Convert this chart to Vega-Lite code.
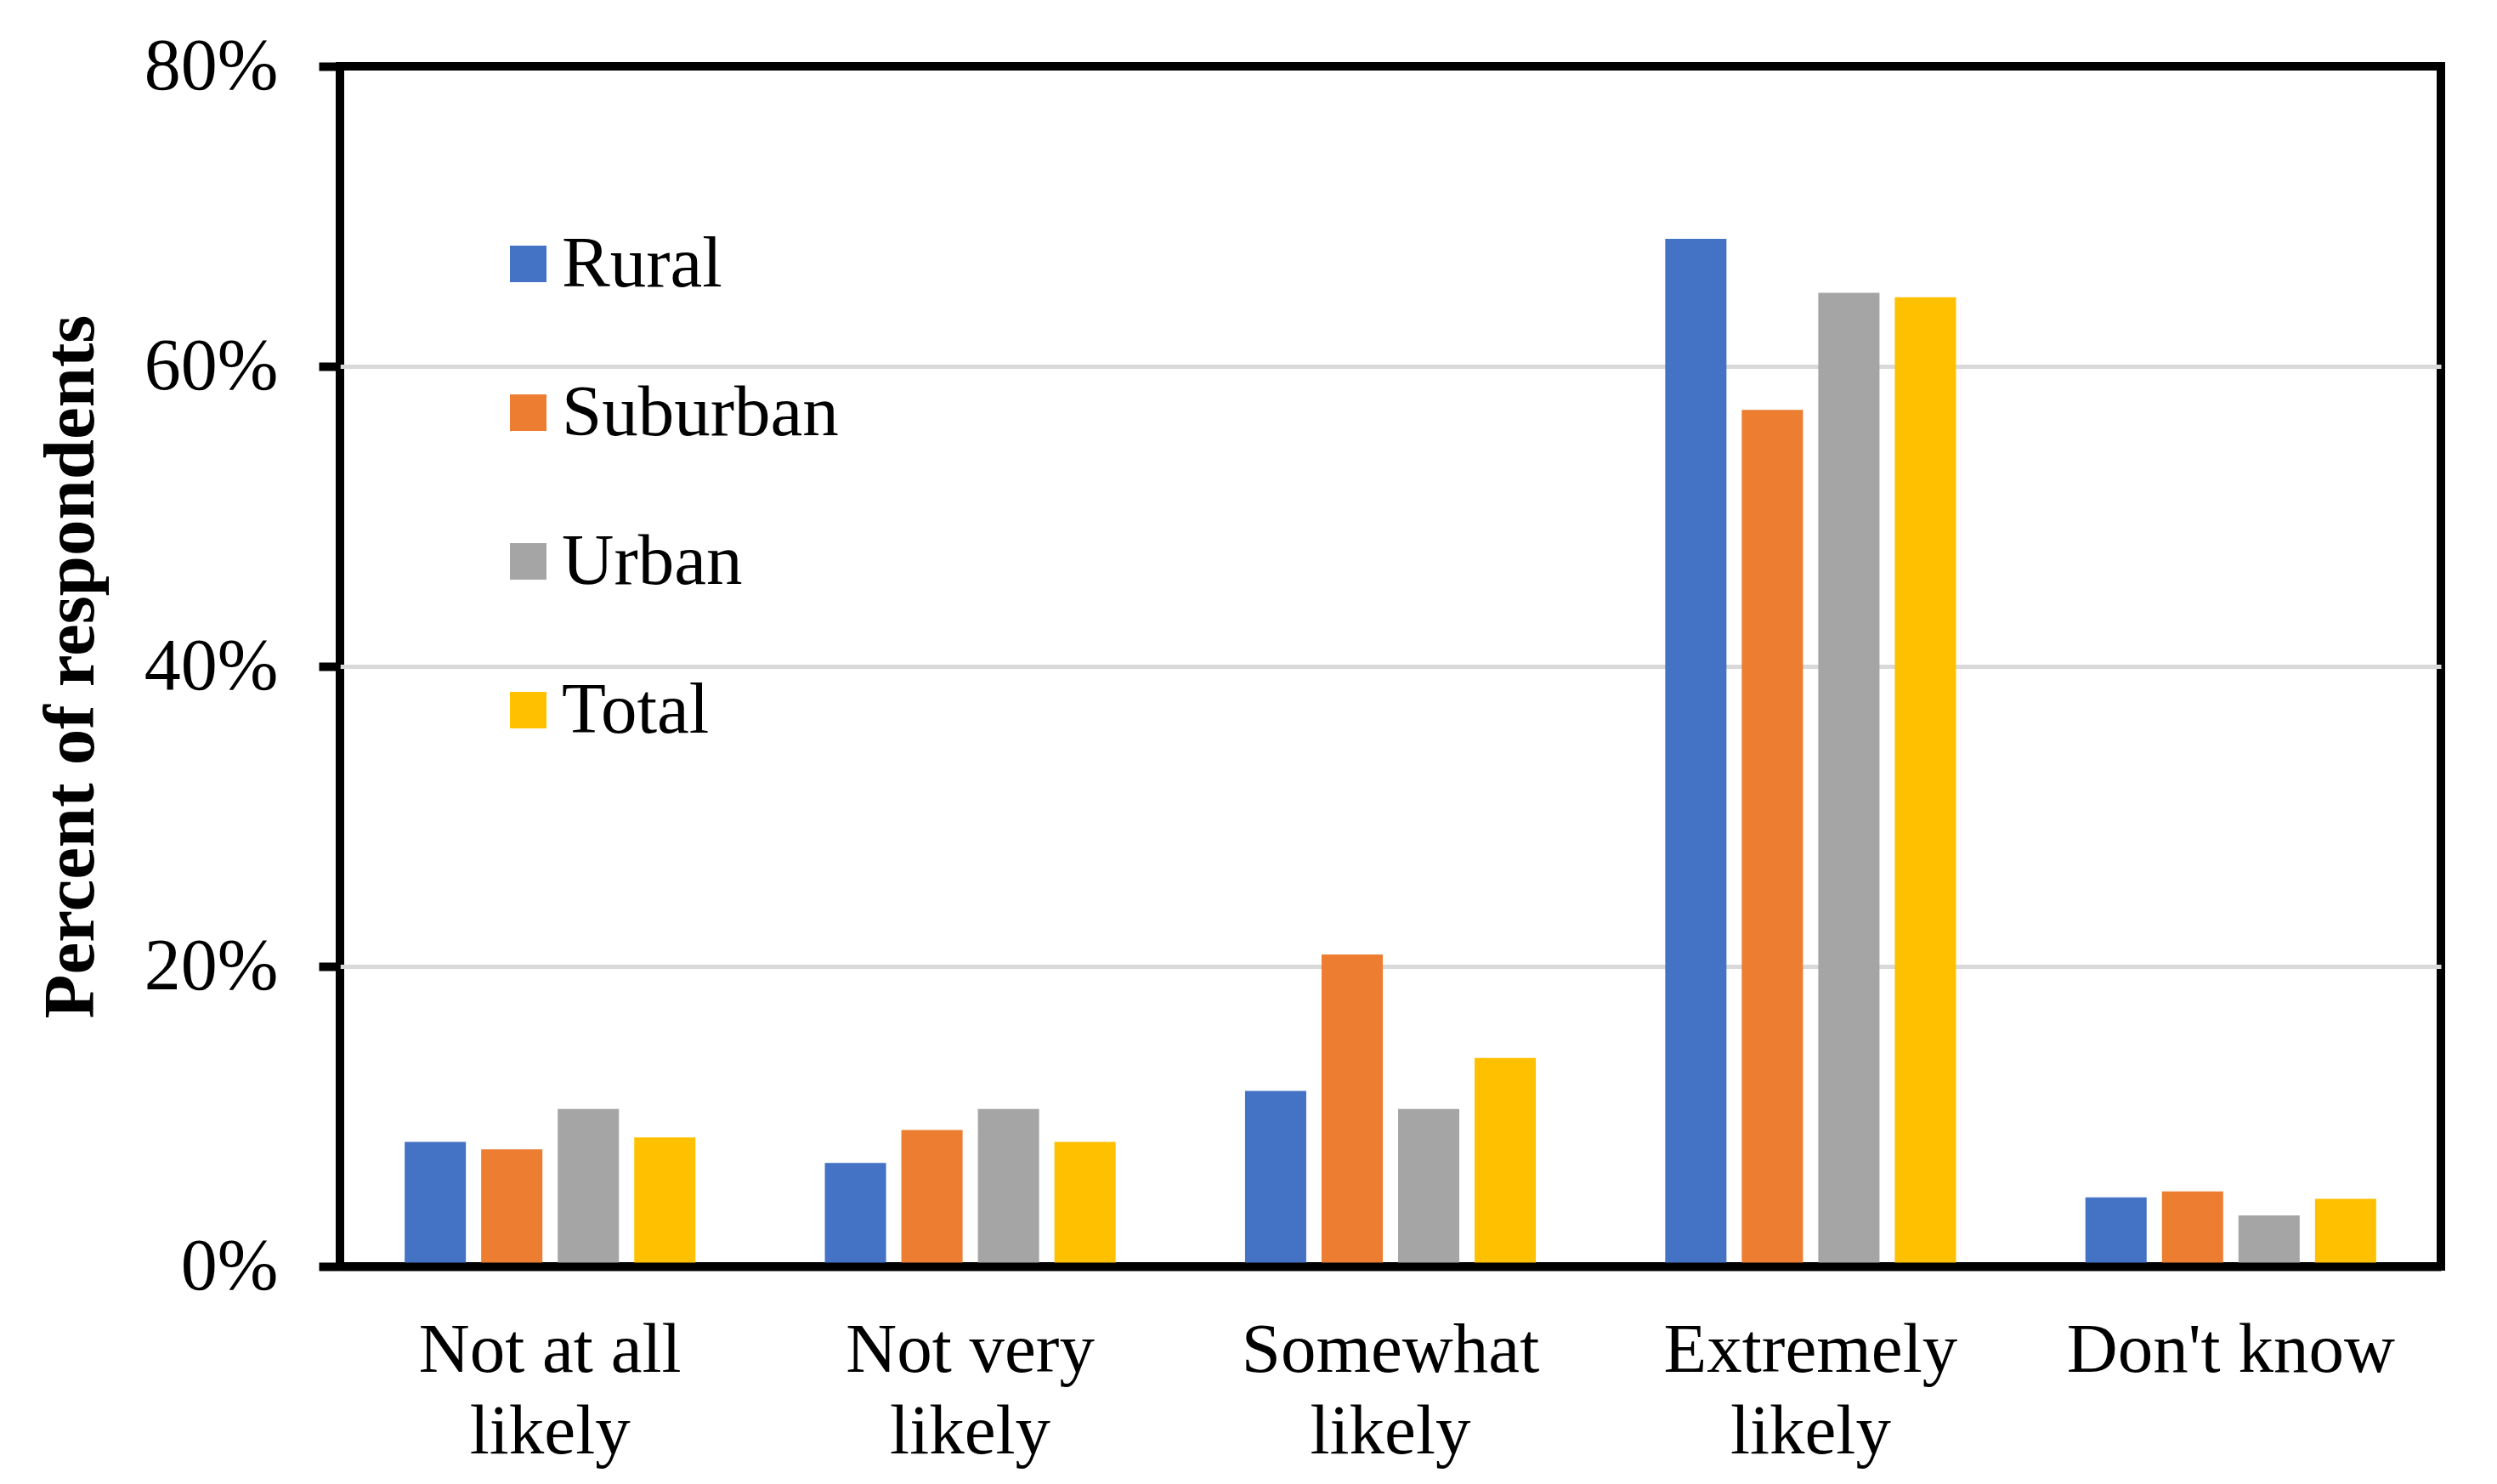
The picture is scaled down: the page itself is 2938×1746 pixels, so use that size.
{
  "$schema": "https://vega.github.io/schema/vega-lite/v6.json",
  "width": 2472,
  "height": 1412,
  "autosize": {"type": "none"},
  "padding": {"left": 400, "top": 78, "right": 66, "bottom": 256},
  "background": "white",
  "config": {
    "font": "Liberation Serif",
    "view": {"stroke": "black", "strokeWidth": 10}
  },
  "data": {
    "values": [
      {"likelihood": "Not at all likely", "area": "Rural", "pct": 0.083},
      {"likelihood": "Not at all likely", "area": "Suburban", "pct": 0.078},
      {"likelihood": "Not at all likely", "area": "Urban", "pct": 0.105},
      {"likelihood": "Not at all likely", "area": "Total", "pct": 0.086},
      {"likelihood": "Not very likely", "area": "Rural", "pct": 0.069},
      {"likelihood": "Not very likely", "area": "Suburban", "pct": 0.091},
      {"likelihood": "Not very likely", "area": "Urban", "pct": 0.105},
      {"likelihood": "Not very likely", "area": "Total", "pct": 0.083},
      {"likelihood": "Somewhat likely", "area": "Rural", "pct": 0.117},
      {"likelihood": "Somewhat likely", "area": "Suburban", "pct": 0.208},
      {"likelihood": "Somewhat likely", "area": "Urban", "pct": 0.105},
      {"likelihood": "Somewhat likely", "area": "Total", "pct": 0.139},
      {"likelihood": "Extremely likely", "area": "Rural", "pct": 0.685},
      {"likelihood": "Extremely likely", "area": "Suburban", "pct": 0.571},
      {"likelihood": "Extremely likely", "area": "Urban", "pct": 0.649},
      {"likelihood": "Extremely likely", "area": "Total", "pct": 0.646},
      {"likelihood": "Don't know", "area": "Rural", "pct": 0.046},
      {"likelihood": "Don't know", "area": "Suburban", "pct": 0.050},
      {"likelihood": "Don't know", "area": "Urban", "pct": 0.034},
      {"likelihood": "Don't know", "area": "Total", "pct": 0.045}
    ]
  },
  "mark": {"type": "bar"},
  "encoding": {
    "x": {
      "field": "likelihood",
      "type": "nominal",
      "sort": ["Not at all likely", "Not very likely", "Somewhat likely", "Extremely likely", "Don't know"],
      "scale": {"paddingInner": 0.308, "paddingOuter": 0.154},
      "axis": {
        "title": null,
        "labelAngle": 0,
        "labelFontSize": 83,
        "labelColor": "black",
        "labelPadding": 57,
        "labelLineHeight": 96,
        "labelLimit": 0,
        "ticks": false,
        "tickSize": 0,
        "domain": true,
        "domainColor": "black",
        "domainWidth": 10,
        "zindex": 1,
        "labelExpr": "datum.label == 'Not at all likely' ? ['Not at all', 'likely'] : datum.label == 'Not very likely' ? ['Not very', 'likely'] : datum.label == 'Somewhat likely' ? ['Somewhat', 'likely'] : datum.label == 'Extremely likely' ? ['Extremely', 'likely'] : datum.label"
      }
    },
    "xOffset": {
      "field": "area",
      "type": "nominal",
      "sort": ["Rural", "Suburban", "Urban", "Total"],
      "scale": {"paddingInner": 0.2, "paddingOuter": 0}
    },
    "y": {
      "field": "pct",
      "type": "quantitative",
      "scale": {"domain": [0, 0.8]},
      "axis": {
        "title": "Percent of respondents",
        "titleFontSize": 85,
        "titleFontWeight": "bold",
        "titleColor": "black",
        "titlePadding": 73,
        "values": [0, 0.2, 0.4, 0.6, 0.8],
        "format": ".0%",
        "labelFontSize": 86,
        "labelColor": "black",
        "labelPadding": 48,
        "tickSize": 25,
        "tickWidth": 10,
        "tickColor": "black",
        "domain": false,
        "grid": true,
        "gridWidth": 5,
        "gridColor": {"condition": {"test": "datum.value == 0 || datum.value == 0.8", "value": "transparent"}, "value": "#d9d9d9"}
      }
    },
    "color": {
      "field": "area",
      "type": "nominal",
      "sort": ["Rural", "Suburban", "Urban", "Total"],
      "scale": {"domain": ["Rural", "Suburban", "Urban", "Total"], "range": ["#4472C4", "#ED7D31", "#A5A5A5", "#FFC000"]},
      "legend": {
        "title": null,
        "orient": "none",
        "legendX": 179,
        "legendY": 190,
        "direction": "vertical",
        "symbolType": "square",
        "symbolSize": 1849,
        "symbolStrokeWidth": 0,
        "symbolOpacity": 1,
        "labelFontSize": 85,
        "labelColor": "black",
        "labelOffset": -3,
        "labelLimit": 0,
        "rowPadding": 89,
        "padding": 0
      }
    }
  }
}
